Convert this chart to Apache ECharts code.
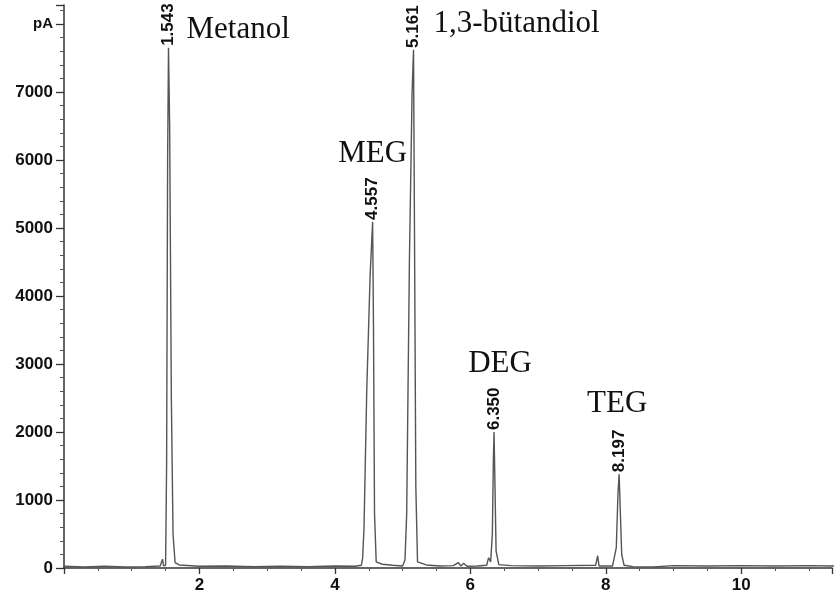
<!DOCTYPE html>
<html>
<head>
<meta charset="utf-8">
<script src="https://cdn.jsdelivr.net/npm/echarts@6/dist/echarts.min.js"></script>
<style>
  html, body { margin: 0; padding: 0; background: #fff; }
  #chart { width: 835px; height: 601px; }
</style>
</head>
<body>
<div id="chart"></div>
<script>
// retention time (min) and detector signal (pA)
const traceTime = [
  0.00, 0.30, 0.60, 0.90, 1.20, 1.42, 1.455, 1.47,
  1.50, 1.515, 1.530, 1.543, 1.560, 1.585, 1.610, 1.640, 1.70,
  2.00, 2.40, 2.80, 3.20, 3.60, 4.00, 4.30,
  4.39, 4.41, 4.43, 4.47, 4.52, 4.557, 4.570, 4.585, 4.610, 4.70, 4.85, 5.00,
  5.035, 5.06, 5.10, 5.14, 5.161, 5.175, 5.195, 5.22, 5.35,
  5.55, 5.75, 5.82, 5.86, 5.90, 5.95, 6.10,
  6.24, 6.27, 6.30, 6.325, 6.340, 6.350, 6.362, 6.380, 6.42, 6.60,
  7.00, 7.40, 7.85, 7.88, 7.90, 8.10,
  8.155, 8.180, 8.197, 8.212, 8.235, 8.27, 8.40,
  8.70, 9.00, 9.50, 10.00, 10.50, 11.00, 11.40
]
const traceSignal = [
  25, 15, 25, 15, 20, 30, 130, 30,
  40, 1500, 6000, 7650, 6500, 2500, 500, 80, 45,
  25, 30, 20, 25, 20, 30, 25,
  40, 150, 600, 2600, 4300, 5090, 3500, 800, 90, 55, 40, 30,
  120, 800, 4500, 7000, 7620, 5000, 1200, 90, 45,
  30, 35, 80, 30, 70, 25, 30,
  40, 150, 90, 500, 1600, 2000, 1300, 250, 50, 35,
  30, 35, 40, 180, 30, 30,
  300, 1100, 1380, 900, 200, 40, 20,
  15, 35, 30, 35, 30, 35, 30
]

const peakTimes = [1.543, 4.557, 5.161, 6.350, 8.197]
const peakHeights = [7650, 5090, 7620, 2000, 1380]
const peakLabels = ['1.543', '4.557', '5.161', '6.350', '8.197']
const peakNames = ['Metanol', 'MEG', '1,3-bütandiol', 'DEG', 'TEG']

const yTicks = [0, 1000, 2000, 3000, 4000, 5000, 6000, 7000, 8000]
const xTicks = [2, 4, 6, 8, 10]

// where each compound name sits relative to its peak top
const nameOffsets = [[18, -18], [0, -68], [20, -26], [6, -68], [-2, -70]]
const nameAligns = ['left', 'center', 'left', 'center', 'center']

const chart = echarts.init(document.getElementById('chart'), null, { renderer: 'canvas' })

const numberMarks = peakTimes.map((t, i) => ({
  coord: [t, peakHeights[i]],
  symbolSize: 0,
  label: {
    show: true,
    position: 'top',
    distance: 2,
    rotate: 90,
    align: 'left',
    verticalAlign: 'middle',
    formatter: peakLabels[i],
    fontFamily: 'Liberation Sans, Arial, sans-serif',
    fontWeight: 'bold',
    fontSize: 17,
    color: '#111'
  }
}))

const nameMarks = peakTimes.map((t, i) => ({
  coord: [t, peakHeights[i]],
  symbolSize: 0,
  label: {
    show: true,
    position: 'inside',
    offset: nameOffsets[i],
    align: nameAligns[i],
    verticalAlign: 'middle',
    formatter: peakNames[i],
    fontFamily: 'Liberation Serif, Times New Roman, serif',
    fontSize: 31,
    color: '#111'
  }
}))

const option = {
  animation: false,
  backgroundColor: '#fff',
  grid: { left: 64, right: 0, top: 5, bottom: 33 },
  xAxis: {
    type: 'value',
    min: 0,
    max: 11.34,
    interval: 2,
    axisLine: { onZero: false, lineStyle: { color: '#333', width: 1.5 } },
    axisTick: { length: 6, lineStyle: { color: '#333', width: 1.3 } },
    minorTick: { show: true, splitNumber: 4, length: 3, lineStyle: { color: '#555' } },
    splitLine: { show: false },
    axisLabel: {
      margin: 9,
      color: '#111',
      fontFamily: 'Liberation Sans, Arial, sans-serif',
      fontWeight: 'bold',
      fontSize: 17,
      formatter: v => (xTicks.includes(v) ? String(v) : '')
    }
  },
  yAxis: {
    type: 'value',
    min: 0,
    max: 8280,
    interval: 1000,
    axisLine: { show: true, lineStyle: { color: '#333', width: 1.5 } },
    axisTick: { show: true, length: 8, lineStyle: { color: '#333', width: 1.3 } },
    minorTick: { show: true, splitNumber: 5, length: 4, lineStyle: { color: '#555' } },
    splitLine: { show: false },
    axisLabel: {
      margin: 11,
      color: '#111',
      fontFamily: 'Liberation Sans, Arial, sans-serif',
      fontWeight: 'bold',
      fontSize: 17,
      formatter: v => {
        if (!yTicks.includes(v)) return ''
        return v === 8000 ? '{u|pA}' : String(v)
      },
      rich: {
        u: { fontSize: 15, fontWeight: 'bold', color: '#111', fontFamily: 'Liberation Sans, Arial, sans-serif' }
      }
    }
  },
  series: [
    {
      type: 'line',
      data: traceTime.map((t, i) => [t, traceSignal[i]]),
      showSymbol: false,
      symbol: 'none',
      clip: false,
      lineStyle: { color: '#555', width: 1.4 },
      markPoint: {
        symbol: 'circle',
        symbolSize: 0,
        data: numberMarks.concat(nameMarks)
      }
    }
  ]
}

chart.setOption(option)
</script>
</body>
</html>
